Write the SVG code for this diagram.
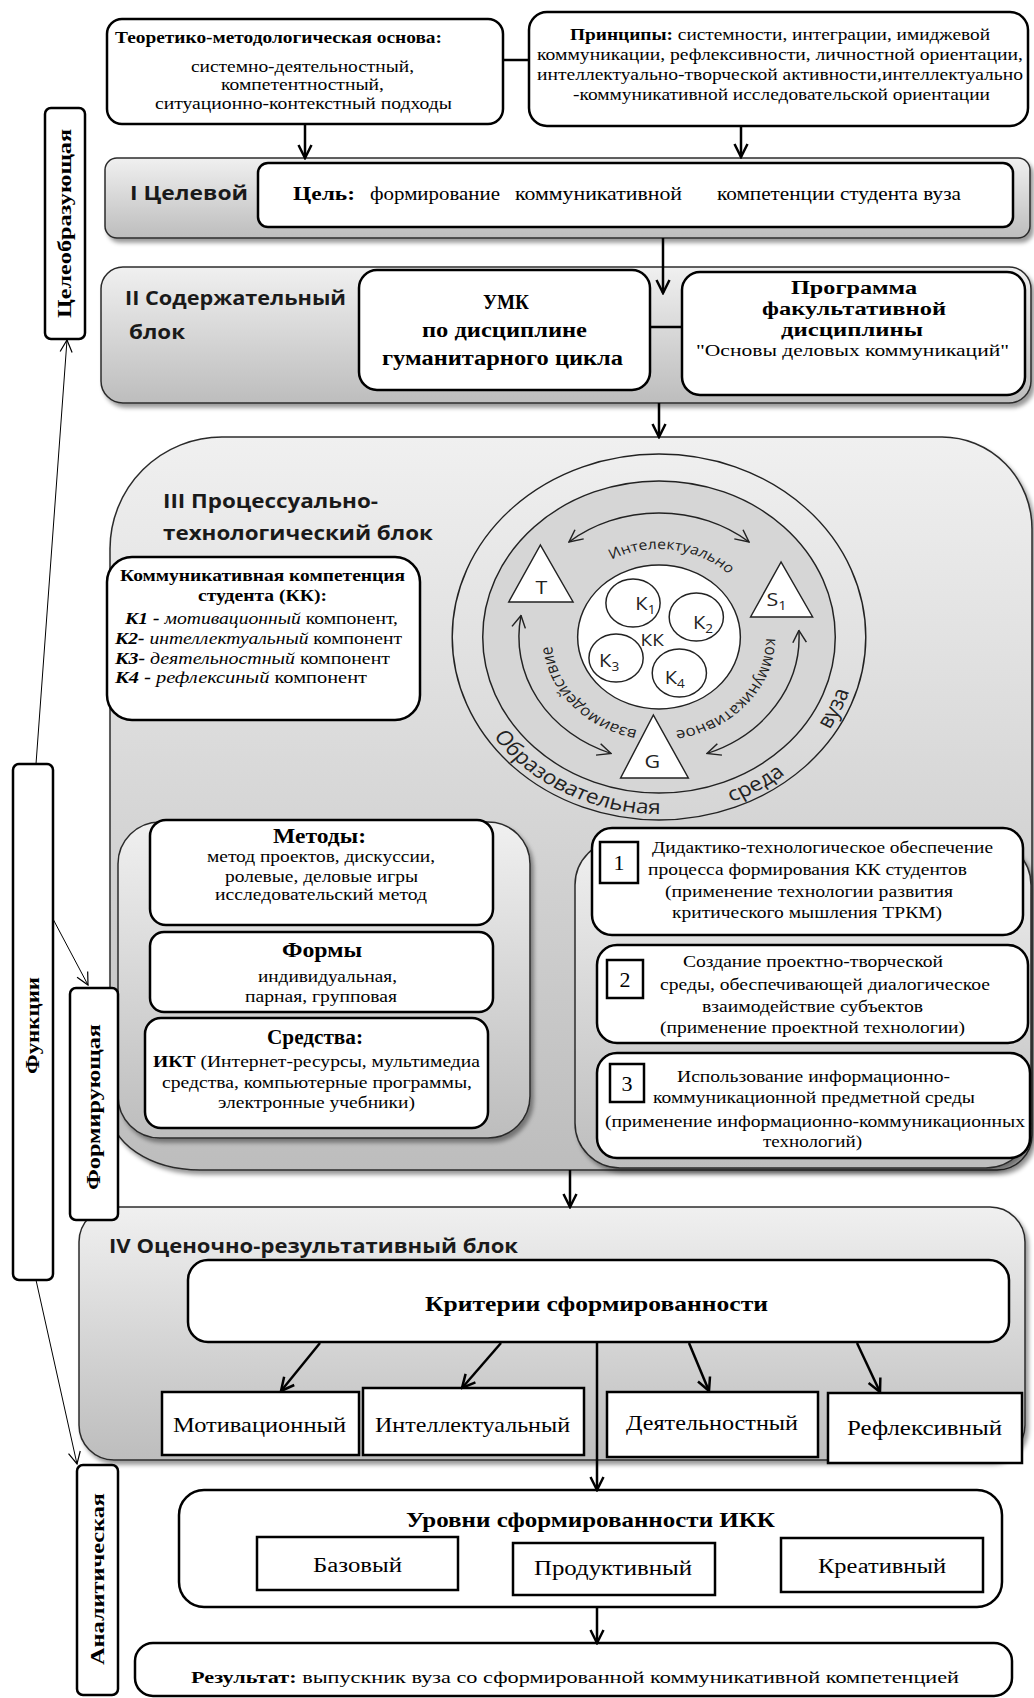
<svg xmlns="http://www.w3.org/2000/svg" width="1034" height="1698" viewBox="0 0 1034 1698">
<defs>
<style>
.s{font-family:"Liberation Serif","Times New Roman",serif;fill:#000}
.ss{font-family:"Open Sans","Liberation Sans",sans-serif;font-weight:700;fill:#1a1a1a}
.sn{font-family:"Open Sans","Liberation Sans",sans-serif;fill:#222}
.b{font-weight:700}
.i{font-style:italic}
.box{fill:#fff;stroke:#000;stroke-width:2.5}
.rbox{fill:#fff;stroke:#000;stroke-width:2.5}
.blk{fill:url(#gb);stroke:#2b2b2b;stroke-width:1.5;filter:url(#sh)}
.cn{fill:none;stroke:#000;stroke-width:2.5}
.ar{marker-end:url(#ah)}
.fn{fill:none;stroke:#000;stroke-width:1;marker-end:url(#at)}
.ring{fill:none;stroke:#222;stroke-width:1.3}
.dbl{fill:none;stroke:#222;stroke-width:1.3;marker-start:url(#at2);marker-end:url(#at2)}
</style>
<linearGradient id="gb" x1="0" y1="0" x2="0" y2="1"><stop offset="0" stop-color="#f0f0f0"/><stop offset="1" stop-color="#bdbdbd"/></linearGradient>
<filter id="sh" x="-5%" y="-5%" width="115%" height="120%"><feDropShadow dx="3" dy="4" stdDeviation="2" flood-color="#000" flood-opacity="0.4"/></filter>
<marker id="ah" markerUnits="userSpaceOnUse" viewBox="0 0 16 16" markerWidth="16" markerHeight="16" refX="14" refY="8" orient="auto"><path d="M1,1.5 L14,8 L1,14.5" fill="none" stroke="#000" stroke-width="2.5"/></marker>
<marker id="at" markerUnits="userSpaceOnUse" viewBox="0 0 14 14" markerWidth="14" markerHeight="14" refX="13" refY="7" orient="auto"><path d="M1,1 L13,7 L1,13" fill="none" stroke="#000" stroke-width="1.2"/></marker>
<marker id="at2" markerUnits="userSpaceOnUse" viewBox="0 0 14 14" markerWidth="14" markerHeight="14" refX="13" refY="7" orient="auto-start-reverse"><path d="M1,1 L13,7 L1,13" fill="none" stroke="#222" stroke-width="1.3"/></marker>
</defs>
<rect width="1034" height="1698" fill="#fff"/>

<!-- Top boxes -->
<g id="n-theory">
<rect class="box" x="107" y="19" width="396" height="105" rx="15"/>
<text class="s b" x="115" y="43" font-size="16" textLength="327" lengthAdjust="spacingAndGlyphs">Теоретико-методологическая основа:</text>
<text class="s" x="191" y="72" font-size="16" textLength="223" lengthAdjust="spacingAndGlyphs">системно-деятельностный,</text>
<text class="s" x="221" y="90" font-size="16" textLength="163" lengthAdjust="spacingAndGlyphs">компетентностный,</text>
<text class="s" x="155" y="109" font-size="16" textLength="297" lengthAdjust="spacingAndGlyphs">ситуационно-контекстный подходы</text>
</g>
<g id="n-principles">
<rect class="box" x="529" y="12" width="499" height="114" rx="18"/>
<text class="s" x="570" y="40" font-size="16" textLength="420" lengthAdjust="spacingAndGlyphs"><tspan class="b">Принципы:</tspan> системности, интеграции, имиджевой</text>
<text class="s" x="537" y="60" font-size="16" textLength="486" lengthAdjust="spacingAndGlyphs">коммуникации, рефлексивности, личностной ориентации,</text>
<text class="s" x="537" y="80" font-size="16" textLength="486" lengthAdjust="spacingAndGlyphs">интеллектуально-творческой активности,интеллектуально</text>
<text class="s" x="573" y="100" font-size="16" textLength="417" lengthAdjust="spacingAndGlyphs">-коммуникативной исследовательской ориентации</text>
</g>

<!-- Block I -->
<g id="n-block1">
<rect class="blk" x="105" y="158" width="925" height="80" rx="12"/>
<text class="ss" x="130" y="200" font-size="19" textLength="118" lengthAdjust="spacingAndGlyphs">I Целевой</text>
</g>
<g id="n-goal">
<rect class="box" x="258" y="163" width="755" height="64" rx="10" stroke-width="3"/>
<text class="s b" x="293" y="200" font-size="18" textLength="62" lengthAdjust="spacingAndGlyphs">Цель:</text>
<text class="s" x="370" y="200" font-size="18" textLength="130" lengthAdjust="spacingAndGlyphs">формирование</text>
<text class="s" x="515" y="200" font-size="18" textLength="167" lengthAdjust="spacingAndGlyphs">коммуникативной</text>
<text class="s" x="717" y="200" font-size="18" textLength="244" lengthAdjust="spacingAndGlyphs">компетенции студента вуза</text>
</g>

<!-- Block II -->
<g id="n-block2">
<rect class="blk" x="101" y="267" width="930" height="136" rx="22"/>
<text class="ss" x="125" y="305" font-size="19" textLength="221" lengthAdjust="spacingAndGlyphs">II Содержательный</text>
<text class="ss" x="129" y="339" font-size="19" textLength="56" lengthAdjust="spacingAndGlyphs">блок</text>
</g>
<g id="n-umk">
<rect class="box" x="359" y="270" width="291" height="120" rx="18" stroke-width="3"/>
<text class="s b" x="483" y="309" font-size="21" textLength="46" lengthAdjust="spacingAndGlyphs">УМК</text>
<text class="s b" x="422" y="337" font-size="20" textLength="165" lengthAdjust="spacingAndGlyphs">по дисциплине</text>
<text class="s b" x="382" y="365" font-size="20" textLength="241" lengthAdjust="spacingAndGlyphs">гуманитарного цикла</text>
</g>
<g id="n-program">
<rect class="box" x="682" y="272" width="343" height="123" rx="18" stroke-width="3"/>
<text class="s b" x="791" y="294" font-size="19" textLength="126" lengthAdjust="spacingAndGlyphs">Программа</text>
<text class="s b" x="762" y="315" font-size="19" textLength="184" lengthAdjust="spacingAndGlyphs">факультативной</text>
<text class="s b" x="781" y="336" font-size="19" textLength="142" lengthAdjust="spacingAndGlyphs">дисциплины</text>
<text class="s" x="696" y="356" font-size="17" textLength="313" lengthAdjust="spacingAndGlyphs">"Основы деловых коммуникаций"</text>
</g>

<!-- Block III -->
<g id="n-block3">
<path class="blk" d="M222,437 H942 A90 92 0 0 1 1032,529 V1135 A35 35 0 0 1 997,1170 H200 A90 60 0 0 1 110,1110 V549 A112 112 0 0 1 222,437 Z"/>
<text class="ss" x="163" y="508" font-size="20" textLength="215" lengthAdjust="spacingAndGlyphs">III  Процессуально-</text>
<text class="ss" x="163" y="540" font-size="20" textLength="270" lengthAdjust="spacingAndGlyphs">технологический  блок</text>
</g>
<g id="n-kk">
<rect class="box" x="107" y="557" width="313" height="163" rx="25"/>
<text class="s b" x="120" y="581" font-size="17" textLength="285" lengthAdjust="spacingAndGlyphs">Коммуникативная компетенция</text>
<text class="s b" x="198" y="601" font-size="17" textLength="129" lengthAdjust="spacingAndGlyphs">студента (КК):</text>
<text class="s" x="125" y="624" font-size="16" textLength="273" lengthAdjust="spacingAndGlyphs"><tspan class="b i">К1 - </tspan><tspan class="i">мотивационный</tspan> компонент,</text>
<text class="s" x="115" y="644" font-size="16" textLength="287" lengthAdjust="spacingAndGlyphs"><tspan class="b i">К2- </tspan><tspan class="i">интеллектуальный</tspan> компонент</text>
<text class="s" x="115" y="664" font-size="16" textLength="275" lengthAdjust="spacingAndGlyphs"><tspan class="b i">К3-  </tspan><tspan class="i">деятельностный</tspan> компонент</text>
<text class="s" x="115" y="683" font-size="16" textLength="252" lengthAdjust="spacingAndGlyphs"><tspan class="b i">К4 - </tspan><tspan class="i">рефлексиный</tspan> компонент</text>
</g>

<!-- Circle diagram -->
<g id="n-circle" transform="translate(659,637) scale(1.13,1)">
<path id="pOuter" d="M-176.9,6.2 A177 177 0 1 0 153.3,-88.5" fill="none"/>
<path id="pTop" d="M-82.7,-30.1 A88 88 0 0 1 87.8,-6.1" fill="none"/>
<path id="pRight" d="M73.8,-59.8 A95 95 0 0 1 -48.9,81.4" fill="none"/>
<path id="pLeft" d="M50.3,80.6 A95 95 0 0 1 -74.9,-58.5" fill="none"/>
<circle class="ring" r="183"/>
<circle r="156" fill="#d6d6d6" stroke="#222" stroke-width="1.3"/>
<circle r="72" fill="#fff" stroke="#222" stroke-width="1.3"/>
<circle class="ring" cx="-23" cy="-34" r="24"/>
<circle class="ring" cx="33" cy="-20" r="24"/>
<circle class="ring" cx="-38" cy="21" r="24"/>
<circle class="ring" cx="18" cy="36" r="24"/>
<text class="sn" x="-21" y="-27" font-size="18">К<tspan font-size="12" dy="4">1</tspan></text>
<text class="sn" x="30" y="-8" font-size="18">К<tspan font-size="12" dy="4">2</tspan></text>
<text class="sn" x="-53" y="30" font-size="18">К<tspan font-size="12" dy="4">3</tspan></text>
<text class="sn" x="5" y="47" font-size="18">К<tspan font-size="12" dy="4">4</tspan></text>
<text class="sn" x="-6" y="9" font-size="17" text-anchor="middle">КК</text>
<polygon points="-105,-92 -133,-35 -76,-35" fill="#fff" stroke="#222" stroke-width="1.3"/>
<polygon points="108,-75 81,-20 136,-20" fill="#fff" stroke="#222" stroke-width="1.3"/>
<polygon points="-5,78 -34,141 26,141" fill="#fff" stroke="#222" stroke-width="1.3"/>
<text class="sn" x="-104" y="-43" font-size="19" text-anchor="middle">T</text>
<text class="sn" x="104" y="-31" font-size="19" text-anchor="middle">S<tspan font-size="13" dy="4">1</tspan></text>
<text class="sn" x="-6" y="131" font-size="19" text-anchor="middle">G</text>
<path class="dbl" d="M-79.7,-95 A124 124 0 0 1 79.7,-95"/>
<path class="dbl" d="M123.8,-6.5 A124 124 0 0 1 42.4,116.5"/>
<path class="dbl" d="M-42.4,116.5 A124 124 0 0 1 -122.1,-21.5"/>
<text class="sn" font-size="14"><textPath href="#pTop" startOffset="50%" text-anchor="middle">Интелектуально</textPath></text>
<text class="sn" font-size="15"><textPath href="#pRight" startOffset="50%" text-anchor="middle">коммуникативное</textPath></text>
<text class="sn" font-size="15"><textPath href="#pLeft" startOffset="50%" text-anchor="middle">взаимодействие</textPath></text>
<text class="sn" font-size="20"><textPath href="#pOuter" startOffset="99">Образовательная</textPath></text>
<text class="sn" font-size="20"><textPath href="#pOuter" startOffset="337">среда</textPath></text>
<text class="sn" font-size="20"><textPath href="#pOuter" startOffset="452">вуза</textPath></text>
</g>

<!-- Methods group -->
<g id="n-methods-container">
<rect class="blk" x="118" y="822" width="412" height="316" rx="42"/>
</g>
<g id="n-methods">
<rect class="box" x="150" y="820" width="343" height="105" rx="16"/>
<text class="s b" x="273" y="843" font-size="20" textLength="93" lengthAdjust="spacingAndGlyphs">Методы:</text>
<text class="s" x="207" y="862" font-size="16" textLength="228" lengthAdjust="spacingAndGlyphs">метод проектов, дискуссии,</text>
<text class="s" x="225" y="882" font-size="16" textLength="193" lengthAdjust="spacingAndGlyphs">ролевые, деловые игры</text>
<text class="s" x="215" y="900" font-size="16" textLength="212" lengthAdjust="spacingAndGlyphs">исследовательский метод</text>
</g>
<g id="n-forms">
<rect class="box" x="150" y="932" width="343" height="80" rx="14"/>
<text class="s b" x="282" y="957" font-size="20" textLength="80" lengthAdjust="spacingAndGlyphs">Формы</text>
<text class="s" x="258" y="982" font-size="16" textLength="139" lengthAdjust="spacingAndGlyphs">индивидуальная,</text>
<text class="s" x="245" y="1002" font-size="16" textLength="152" lengthAdjust="spacingAndGlyphs">парная, групповая</text>
</g>
<g id="n-means">
<rect class="box" x="145" y="1018" width="343" height="110" rx="16"/>
<text class="s b" x="267" y="1044" font-size="20" textLength="96" lengthAdjust="spacingAndGlyphs">Средства:</text>
<text class="s" x="153" y="1067" font-size="16" textLength="327" lengthAdjust="spacingAndGlyphs"><tspan class="b">ИКТ</tspan> (Интернет-ресурсы, мультимедиа</text>
<text class="s" x="162" y="1088" font-size="16" textLength="310" lengthAdjust="spacingAndGlyphs">средства, компьютерные программы,</text>
<text class="s" x="218" y="1108" font-size="16" textLength="197" lengthAdjust="spacingAndGlyphs">электронные учебники)</text>
</g>

<!-- Right conditions -->
<g id="n-cond-container">
<rect class="blk" x="575" y="840" width="456" height="328" rx="45"/>
</g>
<g id="n-cond1">
<rect class="box" x="592" y="828" width="431" height="107" rx="20"/>
<rect class="rbox" x="600" y="842" width="38" height="41"/>
<text class="s" x="619" y="870" font-size="22" text-anchor="middle">1</text>
<text class="s" x="652" y="853" font-size="16" textLength="341" lengthAdjust="spacingAndGlyphs">Дидактико-технологическое обеспечение</text>
<text class="s" x="648" y="875" font-size="16" textLength="319" lengthAdjust="spacingAndGlyphs">процесса формирования КК студентов</text>
<text class="s" x="665" y="897" font-size="16" textLength="288" lengthAdjust="spacingAndGlyphs">(применение технологии  развития</text>
<text class="s" x="672" y="918" font-size="16" textLength="270" lengthAdjust="spacingAndGlyphs">критического мышления ТРКМ)</text>
</g>
<g id="n-cond2">
<rect class="box" x="597" y="945" width="431" height="98" rx="20"/>
<rect class="rbox" x="607" y="960" width="36" height="38"/>
<text class="s" x="625" y="987" font-size="22" text-anchor="middle">2</text>
<text class="s" x="683" y="967" font-size="16" textLength="260" lengthAdjust="spacingAndGlyphs">Создание проектно-творческой</text>
<text class="s" x="660" y="990" font-size="16" textLength="330" lengthAdjust="spacingAndGlyphs">среды, обеспечивающей диалогическое</text>
<text class="s" x="702" y="1012" font-size="16" textLength="221" lengthAdjust="spacingAndGlyphs">взаимодействие субъектов</text>
<text class="s" x="660" y="1033" font-size="16" textLength="305" lengthAdjust="spacingAndGlyphs">(применение проектной технологии)</text>
</g>
<g id="n-cond3">
<rect class="box" x="597" y="1053" width="433" height="105" rx="20"/>
<rect class="rbox" x="610" y="1064" width="34" height="38"/>
<text class="s" x="627" y="1091" font-size="22" text-anchor="middle">3</text>
<text class="s" x="677" y="1082" font-size="16" textLength="273" lengthAdjust="spacingAndGlyphs">Использование информационно-</text>
<text class="s" x="653" y="1103" font-size="16" textLength="322" lengthAdjust="spacingAndGlyphs">коммуникационной предметной среды</text>
<text class="s" x="605" y="1127" font-size="16" textLength="420" lengthAdjust="spacingAndGlyphs">(применение информационно-коммуникационных</text>
<text class="s" x="763" y="1147" font-size="16" textLength="99" lengthAdjust="spacingAndGlyphs">технологий)</text>
</g>

<!-- Block IV -->
<g id="n-block4">
<rect class="blk" x="79" y="1207" width="946" height="253" rx="35"/>
<text class="ss" x="109" y="1253" font-size="19" textLength="409" lengthAdjust="spacingAndGlyphs">IV Оценочно-результативный  блок</text>
</g>
<g id="n-criteria">
<rect class="box" x="188" y="1260" width="821" height="82" rx="20"/>
<text class="s b" x="425" y="1311" font-size="22" textLength="343" lengthAdjust="spacingAndGlyphs">Критерии сформированности</text>
</g>
<g id="n-c-motiv"><rect class="rbox" x="162" y="1392" width="197" height="63"/><text class="s" x="173" y="1432" font-size="21" textLength="173" lengthAdjust="spacingAndGlyphs">Мотивационный</text></g>
<g id="n-c-intel"><rect class="rbox" x="363" y="1388" width="221" height="67"/><text class="s" x="375" y="1432" font-size="21" textLength="195" lengthAdjust="spacingAndGlyphs">Интеллектуальный</text></g>
<g id="n-c-deyat"><rect class="rbox" x="607" y="1392" width="211" height="65"/><text class="s" x="626" y="1430" font-size="21" textLength="172" lengthAdjust="spacingAndGlyphs">Деятельностный</text></g>
<g id="n-c-refl"><rect class="rbox" x="828" y="1393" width="194" height="70"/><text class="s" x="847" y="1435" font-size="21" textLength="155" lengthAdjust="spacingAndGlyphs">Рефлексивный</text></g>

<g id="n-levels">
<rect class="box" x="179" y="1490" width="823" height="117" rx="25"/>
<text class="s b" x="406" y="1527" font-size="21" textLength="369" lengthAdjust="spacingAndGlyphs">Уровни сформированности  ИКК</text>
</g>
<g id="n-l-base"><rect class="rbox" x="257" y="1537" width="201" height="53"/><text class="s" x="313" y="1572" font-size="20" textLength="89" lengthAdjust="spacingAndGlyphs">Базовый</text></g>
<g id="n-l-prod"><rect class="rbox" x="513" y="1543" width="202" height="52"/><text class="s" x="534" y="1575" font-size="20" textLength="158" lengthAdjust="spacingAndGlyphs">Продуктивный</text></g>
<g id="n-l-creat"><rect class="rbox" x="781" y="1538" width="202" height="54"/><text class="s" x="818" y="1573" font-size="20" textLength="128" lengthAdjust="spacingAndGlyphs">Креативный</text></g>

<g id="n-result">
<rect class="box" x="135" y="1643" width="877" height="53" rx="18"/>
<text class="s" x="191" y="1683" font-size="17" textLength="768" lengthAdjust="spacingAndGlyphs"><tspan class="b">Результат:</tspan>  выпускник вуза со сформированной коммуникативной компетенцией</text>
</g>

<!-- Function labels -->
<g id="n-f-celeobr">
<rect class="box" x="45" y="108" width="40" height="231" rx="6"/>
<text class="s b" transform="translate(71,224) rotate(-90)" x="-94" y="0" font-size="19" textLength="189" lengthAdjust="spacingAndGlyphs">Целеобразующая</text>
</g>
<g id="n-f-funk">
<rect class="box" x="13" y="764" width="40" height="516" rx="6"/>
<text class="s b" transform="translate(39,1026) rotate(-90)" x="-48" y="0" font-size="19" textLength="97" lengthAdjust="spacingAndGlyphs">Функции</text>
</g>
<g id="n-f-form">
<rect class="box" x="70" y="988" width="48" height="232" rx="6"/>
<text class="s b" transform="translate(100,1107) rotate(-90)" x="-83" y="0" font-size="19" textLength="166" lengthAdjust="spacingAndGlyphs">Формирующая</text>
</g>
<g id="n-f-anal">
<rect class="box" x="77" y="1465" width="41" height="230" rx="6"/>
<text class="s b" transform="translate(104,1579) rotate(-90)" x="-86" y="0" font-size="19" textLength="172" lengthAdjust="spacingAndGlyphs">Аналитическая</text>
</g>

<!-- Connectors -->
<g id="connectors">
<line class="cn" x1="503" y1="60" x2="529" y2="60"/>
<line class="cn ar" x1="305" y1="124" x2="305" y2="158"/>
<line class="cn ar" x1="741" y1="126" x2="741" y2="157"/>
<line class="cn ar" x1="663" y1="238" x2="663" y2="293"/>
<line class="cn" x1="650" y1="327" x2="682" y2="327"/>
<line class="cn ar" x1="659" y1="403" x2="659" y2="437"/>
<line class="cn ar" x1="570" y1="1170" x2="570" y2="1207"/>
<line class="cn ar" x1="320" y1="1343" x2="281" y2="1391"/>
<line class="cn ar" x1="501" y1="1343" x2="462" y2="1388"/>
<line class="cn ar" x1="689" y1="1343" x2="709" y2="1391"/>
<line class="cn ar" x1="857" y1="1343" x2="880" y2="1392"/>
<line class="cn ar" x1="597" y1="1342" x2="597" y2="1490"/>
<line class="cn ar" x1="597" y1="1607" x2="597" y2="1643"/>
<line class="fn" x1="36" y1="764" x2="67" y2="340"/>
<line class="fn" x1="53" y1="919" x2="88" y2="985"/>
<line class="fn" x1="36" y1="1280" x2="77" y2="1464"/>
</g>
</svg>
